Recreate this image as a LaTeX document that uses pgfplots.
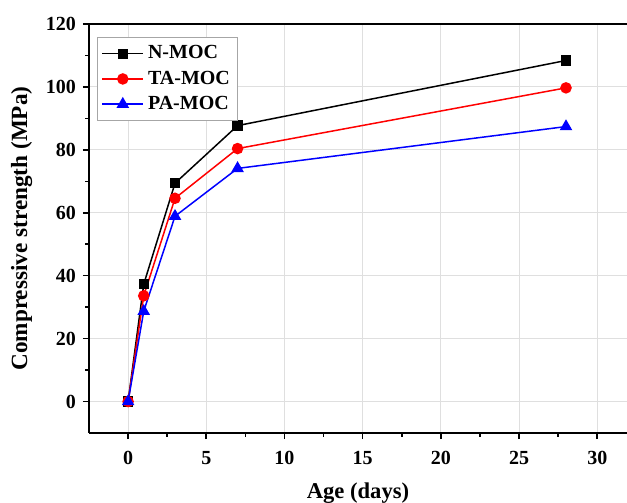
\documentclass[border=0pt]{standalone}
\usepackage{pgfplots}
\pgfplotsset{compat=1.18}
\usepackage{fontspec}
\setmainfont{Liberation Serif}
\begin{document}
\begin{tikzpicture}
\useasboundingbox (-44.5pt,-35pt) rectangle (269pt,216.5pt);
\begin{axis}[
  at={(0,0)}, anchor=south west,
  scale only axis,
  width=269pt, height=204.5pt,
  xmin=-2.5, xmax=31.9, ymin=-10, ymax=120,
  axis x line=box, axis y line=left,
  axis line style={line width=1pt, -},
  xtick={0,5,...,30}, ytick={0,20,...,120},
  minor x tick num=1, minor y tick num=1,
  tick align=outside,
  major tick length=3pt, minor tick length=1.8pt,
  tick style={line width=0.8pt, black},
  xtick pos=bottom, ytick pos=left,
  grid=major,
  major grid style={line width=0.5pt, gray!25},
  /pgf/number format/assume math mode=true,
  ticklabel style={font=\fontsize{10}{12}\selectfont\bfseries},
  xticklabel style={yshift=-2.5pt},
  xlabel={Age (days)}, ylabel={Compressive strength (MPa)},
  xlabel style={font=\fontsize{11.3}{13}\selectfont\bfseries, yshift=-2.5pt},
  ylabel style={font=\fontsize{11.6}{13}\selectfont\bfseries},
  legend style={at={(rel axis cs:0.015,0.968)}, anchor=north west,
    draw=gray!70, line width=0.5pt, font=\fontsize{10}{12}\selectfont\bfseries,
    row sep=0.5pt, inner sep=2pt},
  legend cell align=left,
  legend image code/.code={\draw[mark repeat=2,mark phase=2] plot coordinates {(0cm,0cm) (0.36cm,0cm) (0.72cm,0cm)};},
  every axis plot/.append style={line width=0.75pt},
]
\addplot[black, mark=square*, mark size=2.2pt] coordinates {(0,0) (1,37.3) (3,69.4) (7,87.7) (28,108.4)};
\addlegendentry{N-MOC}
\addplot[red, mark=*, mark size=2.5pt] coordinates {(0,0) (1,33.6) (3,64.6) (7,80.4) (28,99.7)};
\addlegendentry{TA-MOC}
\addplot[blue, mark=triangle*, mark size=2.9pt] coordinates {(0,0) (1,28.7) (3,58.9) (7,74.1) (28,87.4)};
\addlegendentry{PA-MOC}
\end{axis}
\end{tikzpicture}
\end{document}
